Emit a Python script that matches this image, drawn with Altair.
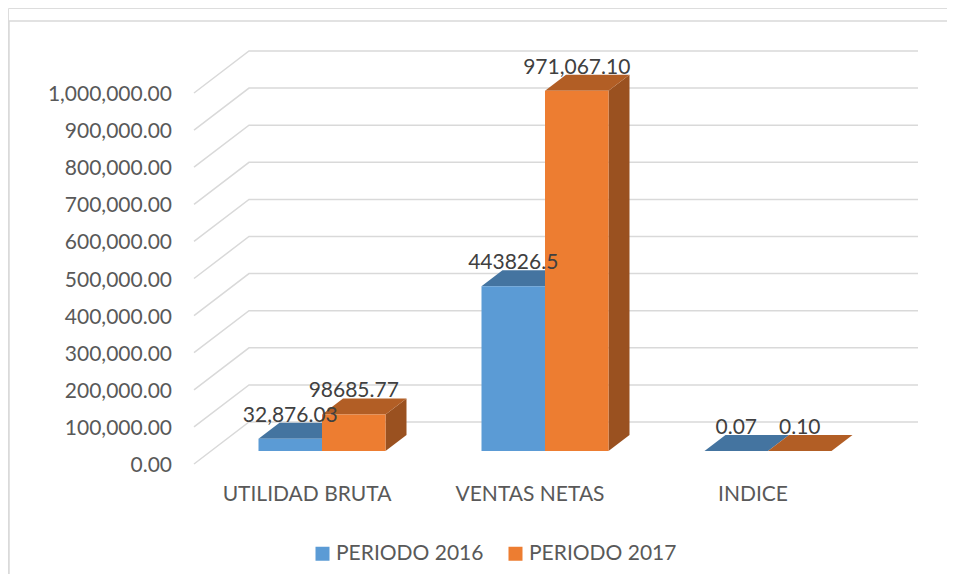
import altair as alt
import pandas as pd

# ---------------- data ----------------
categories = ["UTILIDAD BRUTA", "VENTAS NETAS", "INDICE"]
series = ["PERIODO 2016", "PERIODO 2017"]
values_2016 = [32876.03, 443826.5, 0.07]
values_2017 = [98685.77, 971067.10, 0.10]
labels_2016 = ["32,876.03", "443826.5", "0.07"]
labels_2017 = ["98685.77", "971,067.10", "0.10"]
ticks = [0, 100000, 200000, 300000, 400000, 500000, 600000, 700000, 800000, 900000, 1000000]

# ---------------- style / layout ----------------
front_colors = ["#5B9BD5", "#ED7D31"]
top_colors = ["#4474A0", "#B25E25"]
side_colors = ["#3C6690", "#9A5120"]
GRID = "#D9D9D9"
AXIS_TXT = "#595959"
LABEL_TXT = "#404040"
FONT = "Lato"
FS = 21

W, H = 939, 566
CAT_PX = 223.0        # px between categories
VAL_PX = 0.000371     # px per value unit
X0_PX = 314.0         # plot x of first category centre
Y0_PX = 443.0         # plot y of value 0 on the bars' front plane


def ux(px):
    return px / CAT_PX


def vy(px):
    return px / VAL_PX


BW = ux(63.5)                    # bar width
BAR_DX, BAR_DY = ux(21), vy(16)  # bar depth
GRID_FRONT_X = ux(186 - X0_PX)
GRID_BACK_X = ux(241 - X0_PX)
GRID_END_X = ux(910 - X0_PX)
GRID_FRONT_DV = -vy(13)
GRID_BACK_DV = vy(29)

x_scale = alt.Scale(domain=[-X0_PX / CAT_PX, (W - X0_PX) / CAT_PX], nice=False, zero=False)
y_scale = alt.Scale(domain=[-(H - Y0_PX) / VAL_PX, Y0_PX / VAL_PX], nice=False, zero=False)

# ---------------- tables ----------------
grid_rows = []
for t in ticks:
    grid_rows.append({"t": t, "o": 0, "x": GRID_FRONT_X, "y": t + GRID_FRONT_DV})
    grid_rows.append({"t": t, "o": 1, "x": GRID_BACK_X, "y": t + GRID_BACK_DV})
    grid_rows.append({"t": t, "o": 2, "x": GRID_END_X, "y": t + GRID_BACK_DV})
grid_df = pd.DataFrame(grid_rows)

tick_df = pd.DataFrame({"t": ticks,
                        "x": [ux(164 - X0_PX)] * len(ticks),
                        "y": [t + GRID_FRONT_DV for t in ticks]})

cat_df = pd.DataFrame({"cat": categories,
                       "x": [i - ux(15) for i in range(len(categories))],
                       "y": [-vy(44)] * len(categories)})

front_rows, top_rows, side_rows, lab_rows = [], [], [], []
for si, (vals, labs) in enumerate([(values_2016, labels_2016), (values_2017, labels_2017)]):
    for ci, cat in enumerate(categories):
        xl = ci + (si - 1) * BW
        xr = xl + BW
        v = vals[ci]
        bid = f"{si}-{ci}"
        front_rows.append({"series": series[si], "cat": cat, "xl": xl, "xr": xr, "v0": 0.0, "v": v})
        top_rows.append({"si": si, "id": bid, "y": v, "xl": xl, "xr": xr})
        top_rows.append({"si": si, "id": bid, "y": v + BAR_DY, "xl": xl + BAR_DX, "xr": xr + BAR_DX})
        side_rows.append({"si": si, "id": bid, "x": xr, "y": 0.0, "y2": v})
        side_rows.append({"si": si, "id": bid, "x": xr + BAR_DX, "y": BAR_DY, "y2": v + BAR_DY})
        lab_rows.append({"x": (xl + xr) / 2, "y": v, "label": labs[ci]})

front_df = pd.DataFrame(front_rows)
top_df = pd.DataFrame(top_rows)
side_df = pd.DataFrame(side_rows)
lab_df = pd.DataFrame(lab_rows)

# ---------------- layers ----------------
X = lambda f: alt.X(f, scale=x_scale, axis=None)
Y = lambda f: alt.Y(f, scale=y_scale, axis=None, stack=None)

grid = alt.Chart(grid_df).mark_line(color=GRID, strokeWidth=1.5).encode(
    x=X("x:Q"), y=Y("y:Q"), detail="t:N", order="o:Q")

tick_text = alt.Chart(tick_df).mark_text(
    align="right", baseline="middle", dy=2, font=FONT, fontSize=FS, color=AXIS_TXT
).encode(x=X("x:Q"), y=Y("y:Q"), text=alt.Text("t:Q", format=",.2f"))

cat_text = alt.Chart(cat_df).mark_text(
    align="center", baseline="middle", font=FONT, fontSize=FS, color=AXIS_TXT
).encode(x=X("x:Q"), y=Y("y:Q"), text="cat:N")

layers = [grid, tick_text, cat_text]
for si in range(2):
    layers.append(alt.Chart(side_df[side_df.si == si]).mark_area(
        orient="vertical", color=side_colors[si]
    ).encode(x=X("x:Q"), y=Y("y:Q"), y2="y2:Q", detail="id:N"))
    layers.append(alt.Chart(top_df[top_df.si == si]).mark_area(
        orient="horizontal", color=top_colors[si]
    ).encode(y=Y("y:Q"), x=X("xl:Q"), x2="xr:Q", detail="id:N"))

front = alt.Chart(front_df).mark_rect().encode(
    x=X("xl:Q"), x2="xr:Q", y=Y("v0:Q"), y2="v:Q",
    color=alt.Color("series:N", scale=alt.Scale(domain=series, range=front_colors),
                    legend=alt.Legend(orient="none", legendX=304, legendY=535,
                                      direction="horizontal", title=None,
                                      symbolType="square", symbolSize=196,
                                      symbolStrokeWidth=0, symbolOpacity=1,
                                      labelFont=FONT, labelFontSize=FS,
                                      labelColor=AXIS_TXT, labelOffset=3,
                                      columnPadding=21, padding=0)))
layers.append(front)

data_labels = alt.Chart(lab_df).mark_text(
    align="center", baseline="alphabetic", dy=-17, font=FONT, fontSize=FS, color=LABEL_TXT
).encode(x=X("x:Q"), y=Y("y:Q"), text="label:N")
layers.append(data_labels)

# chart frame (left and top edges; the right/bottom edges fall outside the picture)
frame = alt.Chart(pd.DataFrame({"a": [0]})).mark_rect(
    filled=False, stroke=GRID, strokeWidth=1.5
).encode(x=alt.value(1), x2=alt.value(W + 20), y=alt.value(13), y2=alt.value(H + 20))
layers = [frame] + layers

chart = alt.layer(*layers).properties(
    width=W, height=H, autosize=alt.AutoSizeParams(type="none"), padding=0
).configure_view(stroke=None).configure(background="white")

chart.save("out.html", embed_options={"renderer": "svg", "actions": False})
